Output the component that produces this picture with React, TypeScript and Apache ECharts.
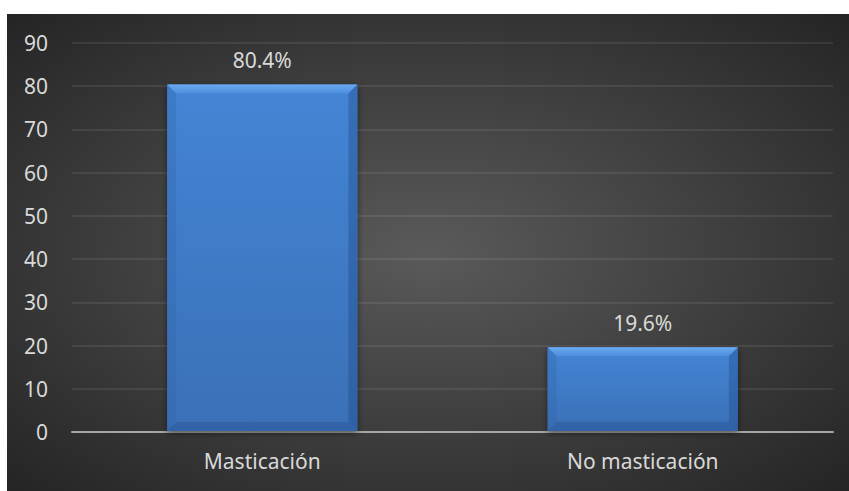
import React, { useEffect, useRef } from "react";
import * as echarts from "echarts";

const categories = ["Masticación", "No masticación"];
const values = [80.4, 19.6];
const valueLabels = ["80.4%", "19.6%"];
const yTicks = { min: 0, max: 90, interval: 10 };

const FONT = "'Noto Sans', 'Open Sans', sans-serif";
const FS = 21;

export default function App() {
  const ref = useRef<HTMLDivElement>(null);
  useEffect(() => {
    if (!ref.current) return;
    const chart = echarts.init(ref.current, null, { renderer: "svg" });
    const option: any = {
      animation: false,
      backgroundColor: "#ffffff",
      graphic: [
        {
          type: "rect",
          z: -10,
          silent: true,
          shape: { x: 7, y: 14, width: 842, height: 477 },
          style: {
            fill: {
              type: "radial",
              x: 0.5,
              y: 0.5,
              r: 0.7,
              colorStops: [
                { offset: 0, color: "#5a5a5a" },
                { offset: 1, color: "#252525" },
              ],
            },
          },
        },
      ],
      grid: { left: 72, right: 16, top: 43, bottom: 59, containLabel: false },
      xAxis: {
        type: "category",
        data: categories,
        axisLine: { show: true, lineStyle: { color: "#a6a6a6", width: 2 } },
        axisTick: { show: false },
        axisLabel: {
          color: "#d9d9d9",
          fontFamily: FONT,
          fontSize: FS,
          margin: 18,
        },
      },
      yAxis: {
        type: "value",
        min: yTicks.min,
        max: yTicks.max,
        interval: yTicks.interval,
        axisLine: { show: false },
        axisTick: { show: false },
        splitLine: { lineStyle: { color: "rgba(255,255,255,0.08)", width: 2 } },
        axisLabel: {
          color: "#d9d9d9",
          fontFamily: FONT,
          fontSize: FS,
          margin: 24,
        },
      },
      series: [
        {
          type: "custom",
          data: values.map((v, i) => [i, v]),
          encode: { x: 0, y: 1 },
          renderItem: (params: any, api: any) => {
            const idx = api.value(0);
            const val = api.value(1);
            const top = api.coord([idx, val]);
            const base = api.coord([idx, 0]);
            const band = api.size([1, 0])[0];
            const w = band * 0.5;
            const x0 = top[0] - w / 2;
            const x1 = top[0] + w / 2;
            const y0 = top[1];
            const y1 = base[1] - 1;
            const b = 9;
            return {
              type: "group",
              children: [
                {
                  type: "rect",
                  shape: { x: x0, y: y0, width: w, height: y1 - y0 },
                  style: {
                    fill: {
                      type: "linear",
                      x: 0,
                      y: 0,
                      x2: 0,
                      y2: 1,
                      colorStops: [
                        { offset: 0, color: "#4485d5" },
                        { offset: 1, color: "#3a70b7" },
                      ],
                    },
                    shadowBlur: 6,
                    shadowColor: "rgba(0,0,0,0.5)",
                    shadowOffsetY: 2,
                  },
                },
                {
                  type: "polygon",
                  shape: {
                    points: [
                      [x0, y0],
                      [x1, y0],
                      [x1 - b, y0 + b],
                      [x0 + b, y0 + b],
                    ],
                  },
                  style: {
                    fill: {
                      type: "linear",
                      x: 0,
                      y: 0,
                      x2: 0,
                      y2: 1,
                      colorStops: [
                        { offset: 0, color: "#6aaaf0" },
                        { offset: 1, color: "#4c8ddd" },
                      ],
                    },
                  },
                },
                {
                  type: "polygon",
                  shape: {
                    points: [
                      [x0, y0],
                      [x0 + b, y0 + b],
                      [x0 + b, y1 - b],
                      [x0, y1],
                    ],
                  },
                  style: { fill: "rgba(50,100,170,0.3)" },
                },
                {
                  type: "polygon",
                  shape: {
                    points: [
                      [x1, y0],
                      [x1 - b, y0 + b],
                      [x1 - b, y1 - b],
                      [x1, y1],
                    ],
                  },
                  style: { fill: "rgba(30,70,130,0.35)" },
                },
                {
                  type: "polygon",
                  shape: {
                    points: [
                      [x0, y1],
                      [x0 + b, y1 - b],
                      [x1 - b, y1 - b],
                      [x1, y1],
                    ],
                  },
                  style: { fill: "rgba(30,70,130,0.3)" },
                },
                {
                  type: "text",
                  style: {
                    text: valueLabels[idx],
                    x: top[0],
                    y: y0 - 24,
                    align: "center",
                    verticalAlign: "middle",
                    fill: "#d9d9d9",
                    font: `${FS}px ${FONT}`,
                  },
                },
              ],
            };
          },
        },
      ],
    };
    chart.setOption(option);
    return () => chart.dispose();
  }, []);
  return (
    <div
      ref={ref}
      style={{ position: "absolute", left: 0, top: 0, width: 849, height: 491 }}
    />
  );
}
